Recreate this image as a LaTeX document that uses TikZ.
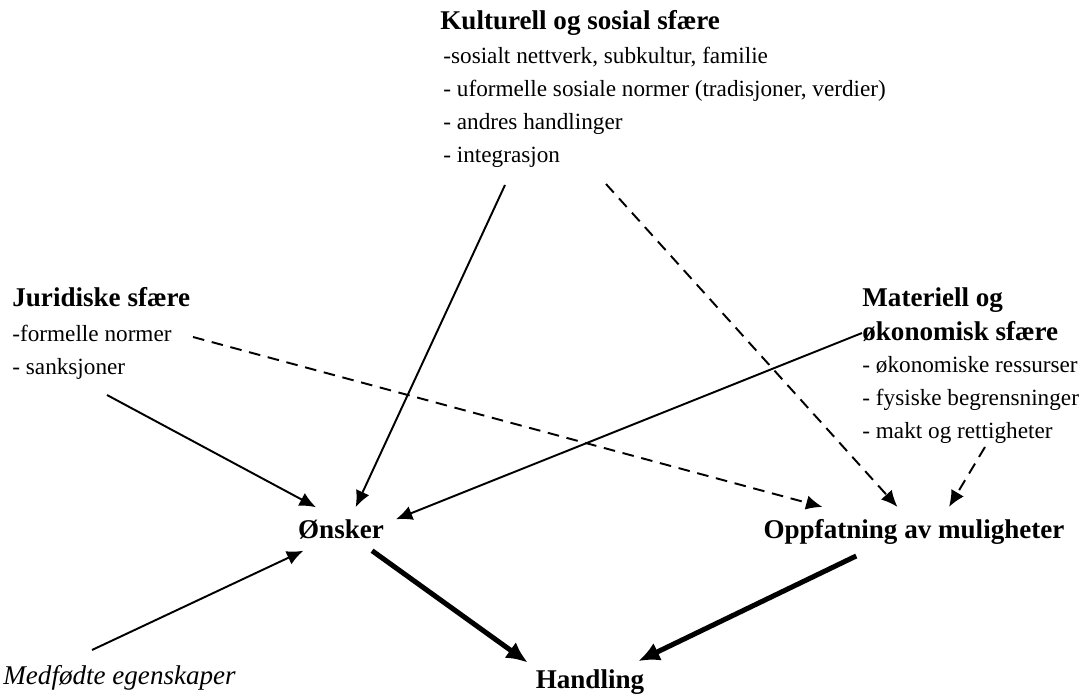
\documentclass[tikz,border=0pt]{standalone}
\usepackage{fontspec}
\setmainfont{Liberation Serif}
\usetikzlibrary{arrows.meta,calc,positioning}

\tikzset{
  head/.style={font=\fontsize{14}{17.5}\selectfont\bfseries,inner sep=0pt,anchor=base west,align=left},
  list/.style={font=\fontsize{12}{17}\selectfont,inner sep=0pt,anchor=base west,align=left},
  arr/.style={-{Latex[length=8.5pt,width=7.5pt]},line width=1pt},
  dasharr/.style={-{Latex[length=8.5pt,width=7.5pt]},line width=1pt,dash pattern=on 6pt off 4pt},
  fatarr/.style={-{Latex[length=11pt,width=10pt]},line width=2.6pt}
}

\begin{document}
\begin{tikzpicture}[x=0.517pt,y=-0.517pt,>=Latex]
  \useasboundingbox (0,0) rectangle (1090,693);

  % base of a multi-line node is its last line
  \node[head] (kult) at (440,30) {Kulturell og sosial sfære};
  \node[list] (kultl) at (443,162) {-sosialt nettverk, subkultur, familie\\- uformelle sosiale normer (tradisjoner, verdier)\\- andres handlinger\\- integrasjon};

  \node[head] (jur) at (12,306) {Juridiske sfære};
  \node[list] (jurl) at (12,374) {-formelle normer\\- sanksjoner};

  \node[head] (mat) at (862,340) {Materiell og\\økonomisk sfære};
  \node[list] (matl) at (862,438) {- økonomiske ressurser\\- fysiske begrensninger\\- makt og rettigheter};

  \node[font=\fontsize{14}{17}\selectfont\itshape,inner sep=0pt,anchor=base west] (medf) at (3,684) {Medfødte egenskaper};

  \node[font=\fontsize{14}{17}\selectfont\bfseries,inner sep=6pt,anchor=base] (ons) at (341,538) {Ønsker};
  \node[font=\fontsize{14}{17}\selectfont\bfseries,inner sep=6pt,anchor=base] (opp) at (914,538) {Oppfatning av muligheter};
  \node[font=\fontsize{14}{17}\selectfont\bfseries,inner sep=4pt,anchor=base] (hand) at (590,688) {Handling};

  \coordinate (jurS) at (107,395);
  \coordinate (jurD) at (193,337);
  \coordinate (kultS) at (505,185);
  \coordinate (kultD) at (606,184);
  \coordinate (matS) at (862,333);
  \coordinate (matD) at (985,447);
  \coordinate (medfS) at (92,650);

  \draw[arr] (jurS) -- (ons.139);
  \draw[arr] (kultS) -- (ons.56);
  \draw[arr] (matS) -- (ons.10);
  \draw[arr] (medfS) -- (ons.210);

  \draw[dasharr] (jurD) -- (opp.165);
  \draw[dasharr] (kultD) -- (opp.124);
  \draw[dasharr] (matD) -- (opp.35);

  \draw[fatarr] (ons.325) -- (hand.163);
  \draw[fatarr] (opp.203) -- (hand.23);
\end{tikzpicture}
\end{document}
